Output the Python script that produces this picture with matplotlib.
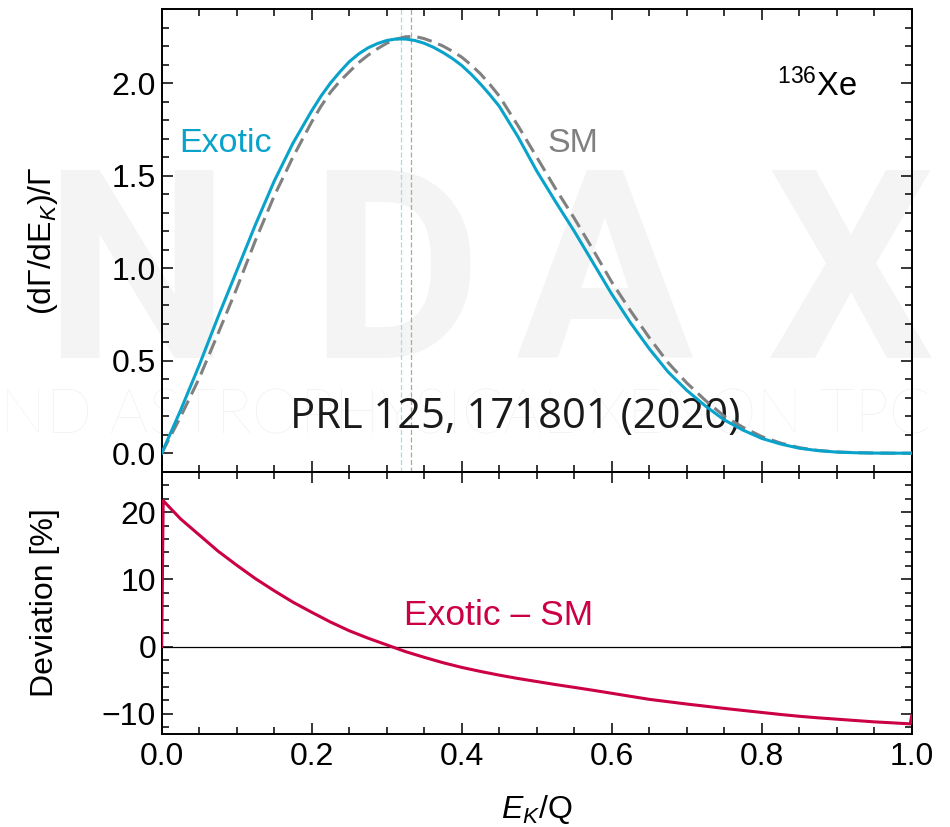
import matplotlib
matplotlib.use("Agg")
import matplotlib.pyplot as plt
from matplotlib.ticker import MultipleLocator

plt.rcParams["font.family"] = ["Liberation Sans", "DejaVu Sans"]
plt.rcParams["mathtext.fontset"] = "custom"
plt.rcParams["mathtext.rm"] = "Liberation Sans"
plt.rcParams["mathtext.it"] = "Liberation Sans:italic"
plt.rcParams["mathtext.bf"] = "Liberation Sans:bold"

# kinetic energy fraction E_K/Q (finer around the maximum)
x = [0.000, 0.025, 0.050, 0.075, 0.100, 0.125, 0.150, 0.175,
     0.200, 0.2125, 0.225, 0.2375, 0.250, 0.2625, 0.275, 0.2875,
     0.300, 0.3125, 0.325, 0.3375, 0.350, 0.3625, 0.375, 0.3875,
     0.400, 0.4125, 0.425, 0.4375, 0.450, 0.475,
     0.500, 0.525, 0.550, 0.575, 0.600, 0.625, 0.650, 0.675, 0.700, 0.725,
     0.750, 0.775, 0.800, 0.825, 0.850, 0.875, 0.900, 0.925, 0.950, 0.975,
     1.000]

# normalised summed-electron spectra
sm = [0.000, 0.195, 0.405, 0.645, 0.890, 1.150, 1.390, 1.600,
      1.790, 1.875, 1.950, 2.010, 2.060, 2.110, 2.150, 2.185,
      2.215, 2.237, 2.250, 2.252, 2.240, 2.222, 2.200, 2.172,
      2.140, 2.098, 2.050, 1.993, 1.930, 1.770,
      1.600, 1.430, 1.270, 1.100, 0.925, 0.770, 0.625, 0.490, 0.380, 0.285,
      0.200, 0.140, 0.090, 0.055, 0.030, 0.015, 0.007, 0.003, 0.001, 0.0002,
      0.000]
exotic = [0.000, 0.230, 0.475, 0.735, 0.985, 1.235, 1.470, 1.675,
          1.850, 1.930, 2.000, 2.060, 2.115, 2.157, 2.190, 2.213,
          2.230, 2.238, 2.238, 2.230, 2.215, 2.193, 2.165, 2.133,
          2.095, 2.048, 1.995, 1.937, 1.875, 1.710,
          1.525, 1.360, 1.200, 1.030, 0.860, 0.705, 0.565, 0.440, 0.340, 0.255,
          0.180, 0.125, 0.080, 0.050, 0.027, 0.014, 0.006, 0.0025, 0.0008, 0.0002,
          0.000]

# spectrum maxima
peak_exotic = 0.319
peak_sm = 0.332

# relative deviation (Exotic - SM)/SM in percent
dev_x = [0.000, 0.002, 0.025, 0.050, 0.075, 0.100, 0.125, 0.150, 0.175, 0.200,
         0.225, 0.250, 0.275, 0.300, 0.325, 0.350, 0.375, 0.400, 0.425, 0.450,
         0.475, 0.500, 0.525, 0.550, 0.575, 0.600, 0.625, 0.650, 0.675, 0.700,
         0.725, 0.750, 0.775, 0.800, 0.825, 0.850, 0.875, 0.900, 0.925, 0.950,
         0.975, 0.998, 1.000]
dev = [0.0, 21.7, 19.0, 16.6, 14.2, 12.1, 10.1, 8.3, 6.6, 5.1,
       3.65, 2.35, 1.25, 0.25, -0.75, -1.6, -2.4, -3.1, -3.7, -4.25,
       -4.75, -5.2, -5.65, -6.07, -6.5, -6.95, -7.4, -7.85, -8.2, -8.55,
       -8.87, -9.2, -9.5, -9.8, -10.1, -10.37, -10.6, -10.8, -11.0, -11.2,
       -11.35, -11.5, -10.3]

CYAN = "#08a2cb"
GRAY = "#808080"
RED = "#cc0044"
WM = "#f4f4f4"

fig = plt.figure(figsize=(9.5, 8.27), dpi=100)

# faint logo in the background
wm_letters = [("N", 136), ("D", 395), ("A", 605), ("X", 850)]
for ch, px in wm_letters:
    fig.text(px / 950, 1 - 358 / 827, ch, fontsize=190, fontweight="bold",
             color=WM, ha="center", va="baseline", zorder=-5,
             family=["Roboto", "DejaVu Sans"])
fig.text(0.0, 1 - 433 / 827, "ND ASTROPHYSICAL XENON TPC",
         fontsize=44, fontweight="light", color="#f0f0f0", ha="left",
         va="baseline", zorder=-5, family=["Lato", "DejaVu Sans"])

ax1 = fig.add_axes([0.1702, 0.4296, 0.7895, 0.5595])
ax2 = fig.add_axes([0.1702, 0.1125, 0.7895, 0.3171], sharex=ax1)

for ax in (ax1, ax2):
    ax.set_facecolor("none")
    for sp in ax.spines.values():
        sp.set_linewidth(1.4)
    ax.tick_params(which="both", direction="in", top=True, right=True,
                   width=1.1, labelsize=23)
    ax.tick_params(which="major", length=8)
    ax.tick_params(which="minor", length=5)
    ax.xaxis.set_major_locator(MultipleLocator(0.2))
    ax.xaxis.set_minor_locator(MultipleLocator(0.05))

# spectra
ax1.axvline(peak_exotic, color="#a6dbea", lw=0.9, ls=(0, (4, 2)), zorder=1)
ax1.axvline(peak_sm, color="#a8a8a8", lw=0.9, ls=(0, (4, 2)), zorder=1)
ax1.plot(x, sm, color=GRAY, lw=2.2, dashes=(4.9, 2.3), zorder=3)
ax1.plot(x, exotic, color=CYAN, lw=2.2, zorder=4)
ax1.set_xlim(0, 1)
ax1.set_ylim(-0.1, 2.4)
ax1.yaxis.set_major_locator(MultipleLocator(0.5))
ax1.yaxis.set_minor_locator(MultipleLocator(0.1))
ax1.tick_params(axis="x", labelbottom=False)
ax1.tick_params(axis="y", pad=4)
ax1.set_ylabel("(dΓ/dE$_K$)/Γ", fontsize=23)

ax1.text(0.024, 1.63, "Exotic", color=CYAN, fontsize=24.5)
ax1.text(0.515, 1.63, "SM", color=GRAY, fontsize=24.5)
ax1.text(0.927, 1.93, "$^{136}$Xe", color="black", fontsize=23.5, ha="right")
ax1.text(0.171, 0.134, "PRL 125, 171801 (2020)", color="#1a1a1a",
         fontsize=30, family=["Open Sans", "DejaVu Sans"], zorder=1)

# deviation panel
ax2.axhline(0, color="black", lw=0.9, zorder=1)
ax2.plot(dev_x, dev, color=RED, lw=2.2, zorder=3)
ax2.set_ylim(-13, 26)
ax2.yaxis.set_major_locator(MultipleLocator(10))
ax2.yaxis.set_minor_locator(MultipleLocator(2))
ax2.tick_params(axis="x", pad=6)
ax2.tick_params(axis="y", pad=4)
ax2.set_xticks([0.0, 0.2, 0.4, 0.6, 0.8, 1.0])
ax2.set_xticklabels(["0.0", "0.2", "0.4", "0.6", "0.8", "1.0"])
ax2.set_ylabel("Deviation [%]", fontsize=23)
ax2.set_xlabel("$E_K$/Q", fontsize=23, labelpad=15)
ax2.text(0.3237, 3.2, "Exotic – SM", color=RED, fontsize=25.5)

for ax in (ax1, ax2):
    ax.yaxis.set_label_coords(-0.136, 0.5)

fig.savefig("out.png", dpi=100)
